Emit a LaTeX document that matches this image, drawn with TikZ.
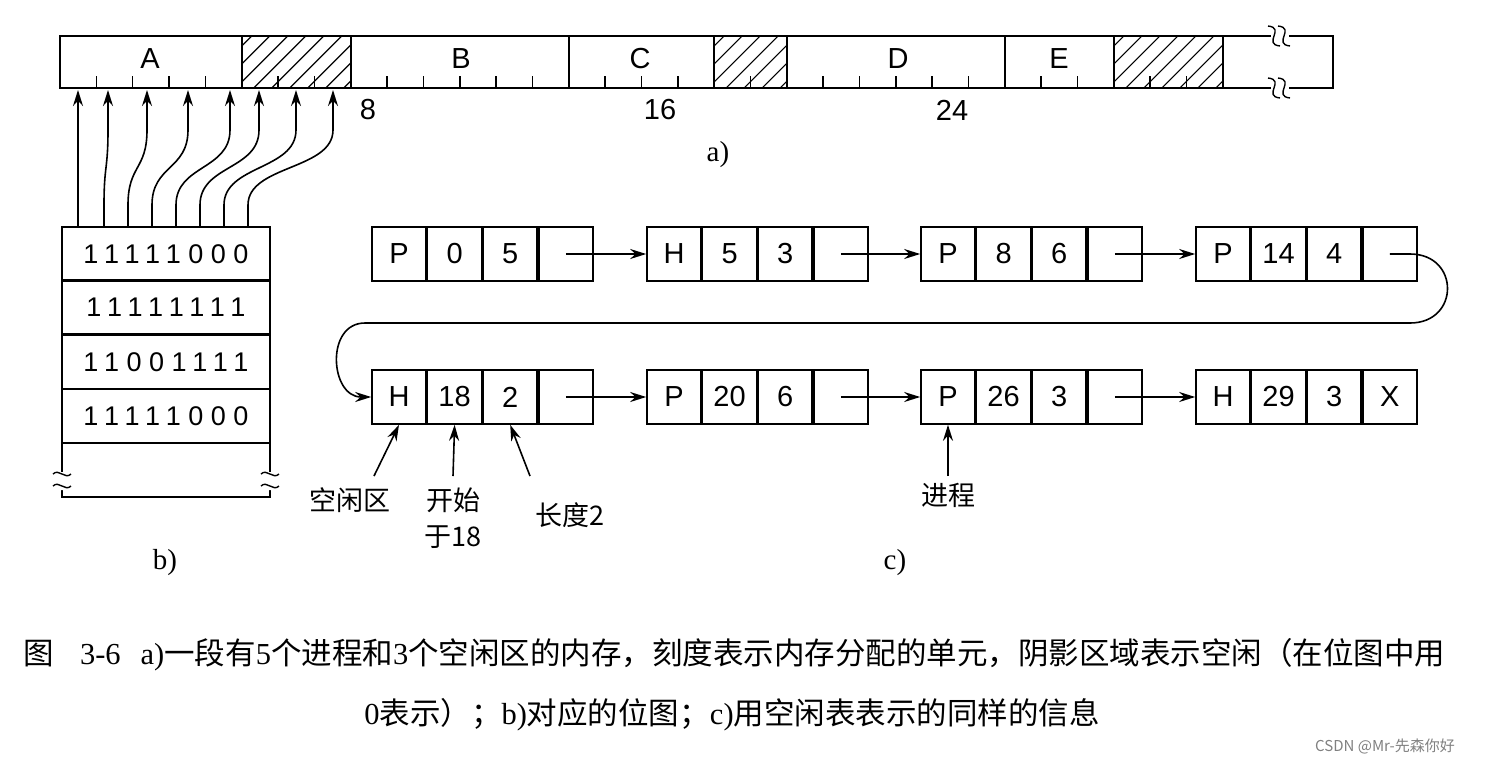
\documentclass[tikz,border=0pt]{standalone}
\usepackage{fontspec}
\setmainfont{Liberation Serif}
\newfontfamily\cjk{Noto Sans CJK SC}
\newfontfamily\hel{Liberation Sans}
\usetikzlibrary{arrows.meta}
\begin{document}
\begin{tikzpicture}[x=1pt,y=-1pt,
  hv/.style={font=\hel\fontsize{29}{29}\selectfont},
  cell/.style={draw,line width=1.6pt,minimum width=54pt,minimum height=54pt,inner sep=0pt,hv},
  lk/.style={line width=1.6pt,-{Stealth[length=16pt,width=10pt]}},
  up/.style={line width=1.6pt,-{Stealth[length=16pt,width=10pt]}},
  lbl/.style={font=\fontsize{29}{29}\selectfont},
  cn/.style={font=\cjk\fontsize{27}{36}\selectfont,align=center}]
\useasboundingbox (0,0) rectangle (1492,764);
% memory bar
\def\u{36.34}
\foreach \a/\b in {5/8,18/20,29/32} {
  \begin{scope}
  \clip ({60+\a*\u},36) rectangle ({60+\b*\u},88);
  \foreach \d in {-60,-42,...,120} \draw[line width=1.2pt] ({60+\a*\u+\d},88) -- ({60+\a*\u+\d+52},36);
  \end{scope}}
\draw[line width=2pt] (60,36) rectangle (1333,88);
\foreach \k in {5,8,14,18,20,26,29,32} \draw[line width=2pt] ({60+\k*\u},36) -- ({60+\k*\u},88);
\foreach \k in {1,...,31} \draw[line width=1.6pt] ({60+\k*\u},88) -- ({60+\k*\u},76);
\fill[white] (1271,30) rectangle (1289,94);
\foreach \y in {36,88} {\draw[line width=1.4pt] (1268,\y-10) .. controls (1286,\y-8) and (1262,\y+8) .. (1280,\y+10);
  \draw[line width=1.4pt] (1278,\y-10) .. controls (1296,\y-8) and (1272,\y+8) .. (1290,\y+10);}
\foreach \t/\x in {A/150,B/461,C/640,D/898,E/1059}
  \node[hv] (m\t) at (\x,59) {\t};
\foreach \t/\x in {8/368,16/660,24/952}
  \node[hv] (n\t) at (\x,110) {\t};
\node[lbl] (la) at (718,155) {a)};
% bitmap
\foreach \r/\t [count=\i] in {227/11111000,280/11111111,335/11001111,389/11111000}
  \node[draw,line width=1.8pt,minimum width=208pt,minimum height=54pt,inner sep=0pt,font=\hel\fontsize{27}{27}\selectfont] (bm\i) at (166,\r+27) {\addfontfeature{LetterSpace=28}\t};
\draw[line width=1.8pt] (62,443) -- (62,497) -- (270,497) -- (270,443);
\fill[white] (55,472) rectangle (69,490) (263,472) rectangle (277,490);
\foreach \x in {62,270} {\draw[line width=1.4pt] (\x-9,474) .. controls (\x-3,468) and (\x+3,480) .. (\x+9,474);
  \draw[line width=1.4pt] (\x-9,486) .. controls (\x-3,480) and (\x+3,492) .. (\x+9,486);}
\node[lbl] (lb) at (165,563) {b)};
% curved arrows
\foreach \s/\t in {78/78,104/108,128/147,152/188,176/230,200/259,224/296,248/333} {
  \coordinate (s\s) at (\s,227);
  \coordinate (t\s) at (\t,90);
  \draw[up] (s\s) -- (\s,205) .. controls (\s,165) and (\t,170) .. (\t,130) -- (t\s);}
% list
\def\row#1#2#3#4#5#6{%
  \node[cell] (#1a) at (#2,#3) {#4};
  \node[cell,anchor=west] (#1b) at (#1a.east) {#5};
  \node[cell,anchor=west] (#1c) at (#1b.east) {#6};
  \node[cell,anchor=west] (#1d) at (#1c.east) {};}
\row{n1}{399}{254}{P}{0}{5}
\row{n2}{674}{254}{H}{5}{3}
\row{n3}{948}{254}{P}{8}{6}
\row{n4}{1223}{254}{P}{14}{4}
\row{n5}{399}{397}{H}{18}{2}
\row{n6}{674}{397}{P}{20}{6}
\row{n7}{948}{397}{P}{26}{3}
\row{n8}{1223}{397}{H}{29}{3}
\node[hv] at (n8d) {X};
\foreach \a/\b in {n1/n2,n2/n3,n3/n4,n5/n6,n6/n7,n7/n8}
  \draw[lk] (\a d.center) -- (\b a.west);
\draw[lk] (n4d.center) -- (1410,254) .. controls (1460,254) and (1460,323) .. (1410,323) -- (365,323) .. controls (325,323) and (330,397) .. (n5a.west);
% annotations
\node[cn] (k1) at (350,500) {空闲区};
\node[cn] (k2) at (453,518) {开始\\于18};
\node[cn] (k3) at (570,515) {长度2};
\node[cn] (k4) at (948,495) {进程};
\draw[up] (374,476) -- (n5a.south);
\draw[up] (453,476) -- (n5b.south);
\draw[up] (530,476) -- (n5c.south);
\draw[up] (948,476) -- (n7a.south);
\node[lbl] (lc) at (895,563) {c)};
% caption
\node[font=\cjk\fontsize{30.5}{30.5}\selectfont,anchor=west] (cap1) at (20,655) {图\hspace{26pt}{\fontspec{Liberation Serif}3-6}\hspace{20pt}{\fontspec{Liberation Serif}a)}一段有{\fontspec{Liberation Serif}5}个进程和{\fontspec{Liberation Serif}3}个空闲区的内存，刻度表示内存分配的单元，阴影区域表示空闲（在位图中用};
\node[font=\cjk\fontsize{30.5}{30.5}\selectfont] (cap2) at (732,715) {{\fontspec{Liberation Serif}0}表示）；{\fontspec{Liberation Serif}b)}对应的位图；{\fontspec{Liberation Serif}c)}用空闲表表示的同样的信息};
\node[font=\cjk\fontsize{15}{15}\selectfont,text=gray] (wm) at (1385,746) {CSDN @Mr-先森你好};
\end{tikzpicture}
\end{document}
